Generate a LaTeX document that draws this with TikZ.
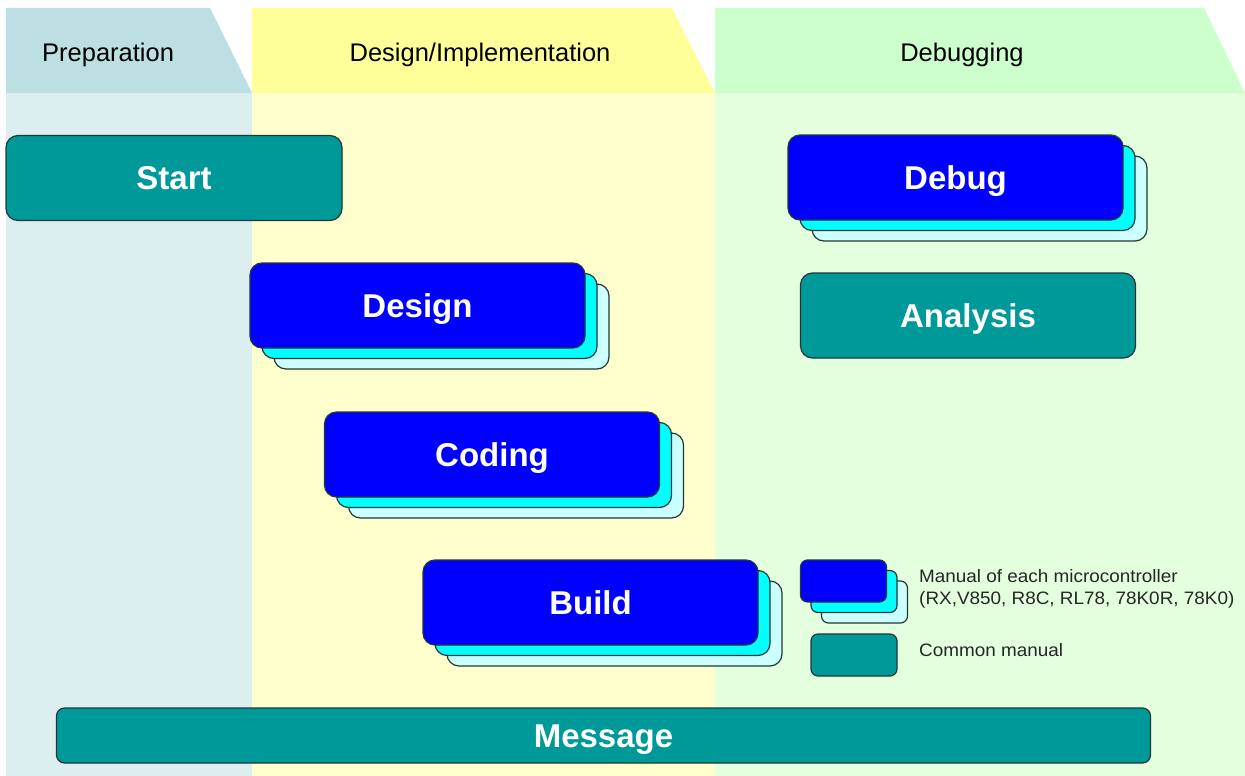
\documentclass[tikz,border=0pt]{standalone}
\usepackage{fontspec}
\setmainfont{Liberation Sans}
\newfontfamily\legendfont[FakeStretch=1.05]{Liberation Sans}
\usetikzlibrary{shadows,calc}
\definecolor{prephead}{RGB}{187,223,227}
\definecolor{prepbody}{RGB}{220,238,240}
\definecolor{deshead}{RGB}{255,255,153}
\definecolor{desbody}{RGB}{255,255,206}
\definecolor{dbghead}{RGB}{204,255,204}
\definecolor{dbgbody}{RGB}{227,255,222}
\definecolor{common}{RGB}{0,153,153}
\definecolor{mcublue}{RGB}{0,0,255}
\definecolor{mcucyan}{RGB}{0,255,255}
\definecolor{mcupale}{RGB}{204,255,255}
\definecolor{edge}{RGB}{35,55,55}
\tikzset{
  phase/.style={font=\fontsize{25.5}{28}\selectfont,text=black,inner sep=0pt,
                text height=18pt,text depth=0pt},
  box/.style={draw=edge,line width=1.2pt,rounded corners=12pt,
              minimum width=335pt,minimum height=85pt,inner sep=0pt,
              text=white,font=\fontsize{33}{36}\selectfont\bfseries,
              text height=23.6pt,text depth=0pt},
  commonbox/.style={box,fill=common},
  mcubox/.style={box,fill=mcublue,
    copy shadow={shadow xshift=24pt,shadow yshift=-21pt,fill=mcupale,draw=edge},
    copy shadow={shadow xshift=12pt,shadow yshift=-10.5pt,fill=mcucyan,draw=edge}},
  legbox/.style={draw=edge,line width=1.2pt,rounded corners=7pt,
                 minimum width=86pt,minimum height=42pt,inner sep=0pt},
  legtext/.style={font=\legendfont\fontsize{18}{22}\selectfont,text=black!85,
                  align=left,inner sep=0pt},
}
\begin{document}
\begin{tikzpicture}[x=1pt,y=-1pt]
  \useasboundingbox (0,0) rectangle (1245,776);
  % phase columns
  \fill[prepbody] (6,93) rectangle (252,776);
  \fill[desbody] (252,93) rectangle (715,776);
  \fill[dbgbody] (715,93) rectangle (1245,776);
  \fill[prephead] (6,8) -- (210,8) -- (252,93) -- (6,93) -- cycle;
  \fill[deshead] (252,8) -- (672,8) -- (715,93) -- (252,93) -- cycle;
  \fill[dbghead] (715,8) -- (1204,8) -- (1245,93) -- (715,93) -- cycle;
  \node[phase,anchor=west] (prep) at (42,53) {Preparation};
  \node[phase] (impl) at (480,53) {Design/Implementation};
  \node[phase] (dbg) at (962,53) {Debugging};
  % process boxes
  \node[commonbox,minimum width=336pt] (start) at (174,178) {Start};
  \node[mcubox] (design) at (417.5,305.5) {Design};
  \node[mcubox] (coding) at (492,454.5) {Coding};
  \node[mcubox] (build) at (590.5,602.5) {Build};
  \node[mcubox] (debug) at (955.5,177.5) {Debug};
  \node[commonbox] (analysis) at (968,315.5) {Analysis};
  \node[commonbox,minimum width=1094pt,minimum height=55pt,rounded corners=8pt]
    (message) at (603.5,735.5) {Message};
  % legend
  \node[legbox,fill=mcublue,
    copy shadow={shadow xshift=21pt,shadow yshift=-21pt,fill=mcupale,draw=edge},
    copy shadow={shadow xshift=10.5pt,shadow yshift=-10.5pt,fill=mcucyan,draw=edge}]
    (legmcu) at (843.5,581) {};
  \node[legbox,fill=common] (legcommon) at (854,655) {};
  \node[legtext,anchor=west] (legmcutext) at (919,589)
    {Manual of each microcontroller\\(RX,V850, R8C, RL78, 78K0R, 78K0)};
  \node[legtext,anchor=base west] (legcommontext) at (919,656) {Common manual};
\end{tikzpicture}
\end{document}
